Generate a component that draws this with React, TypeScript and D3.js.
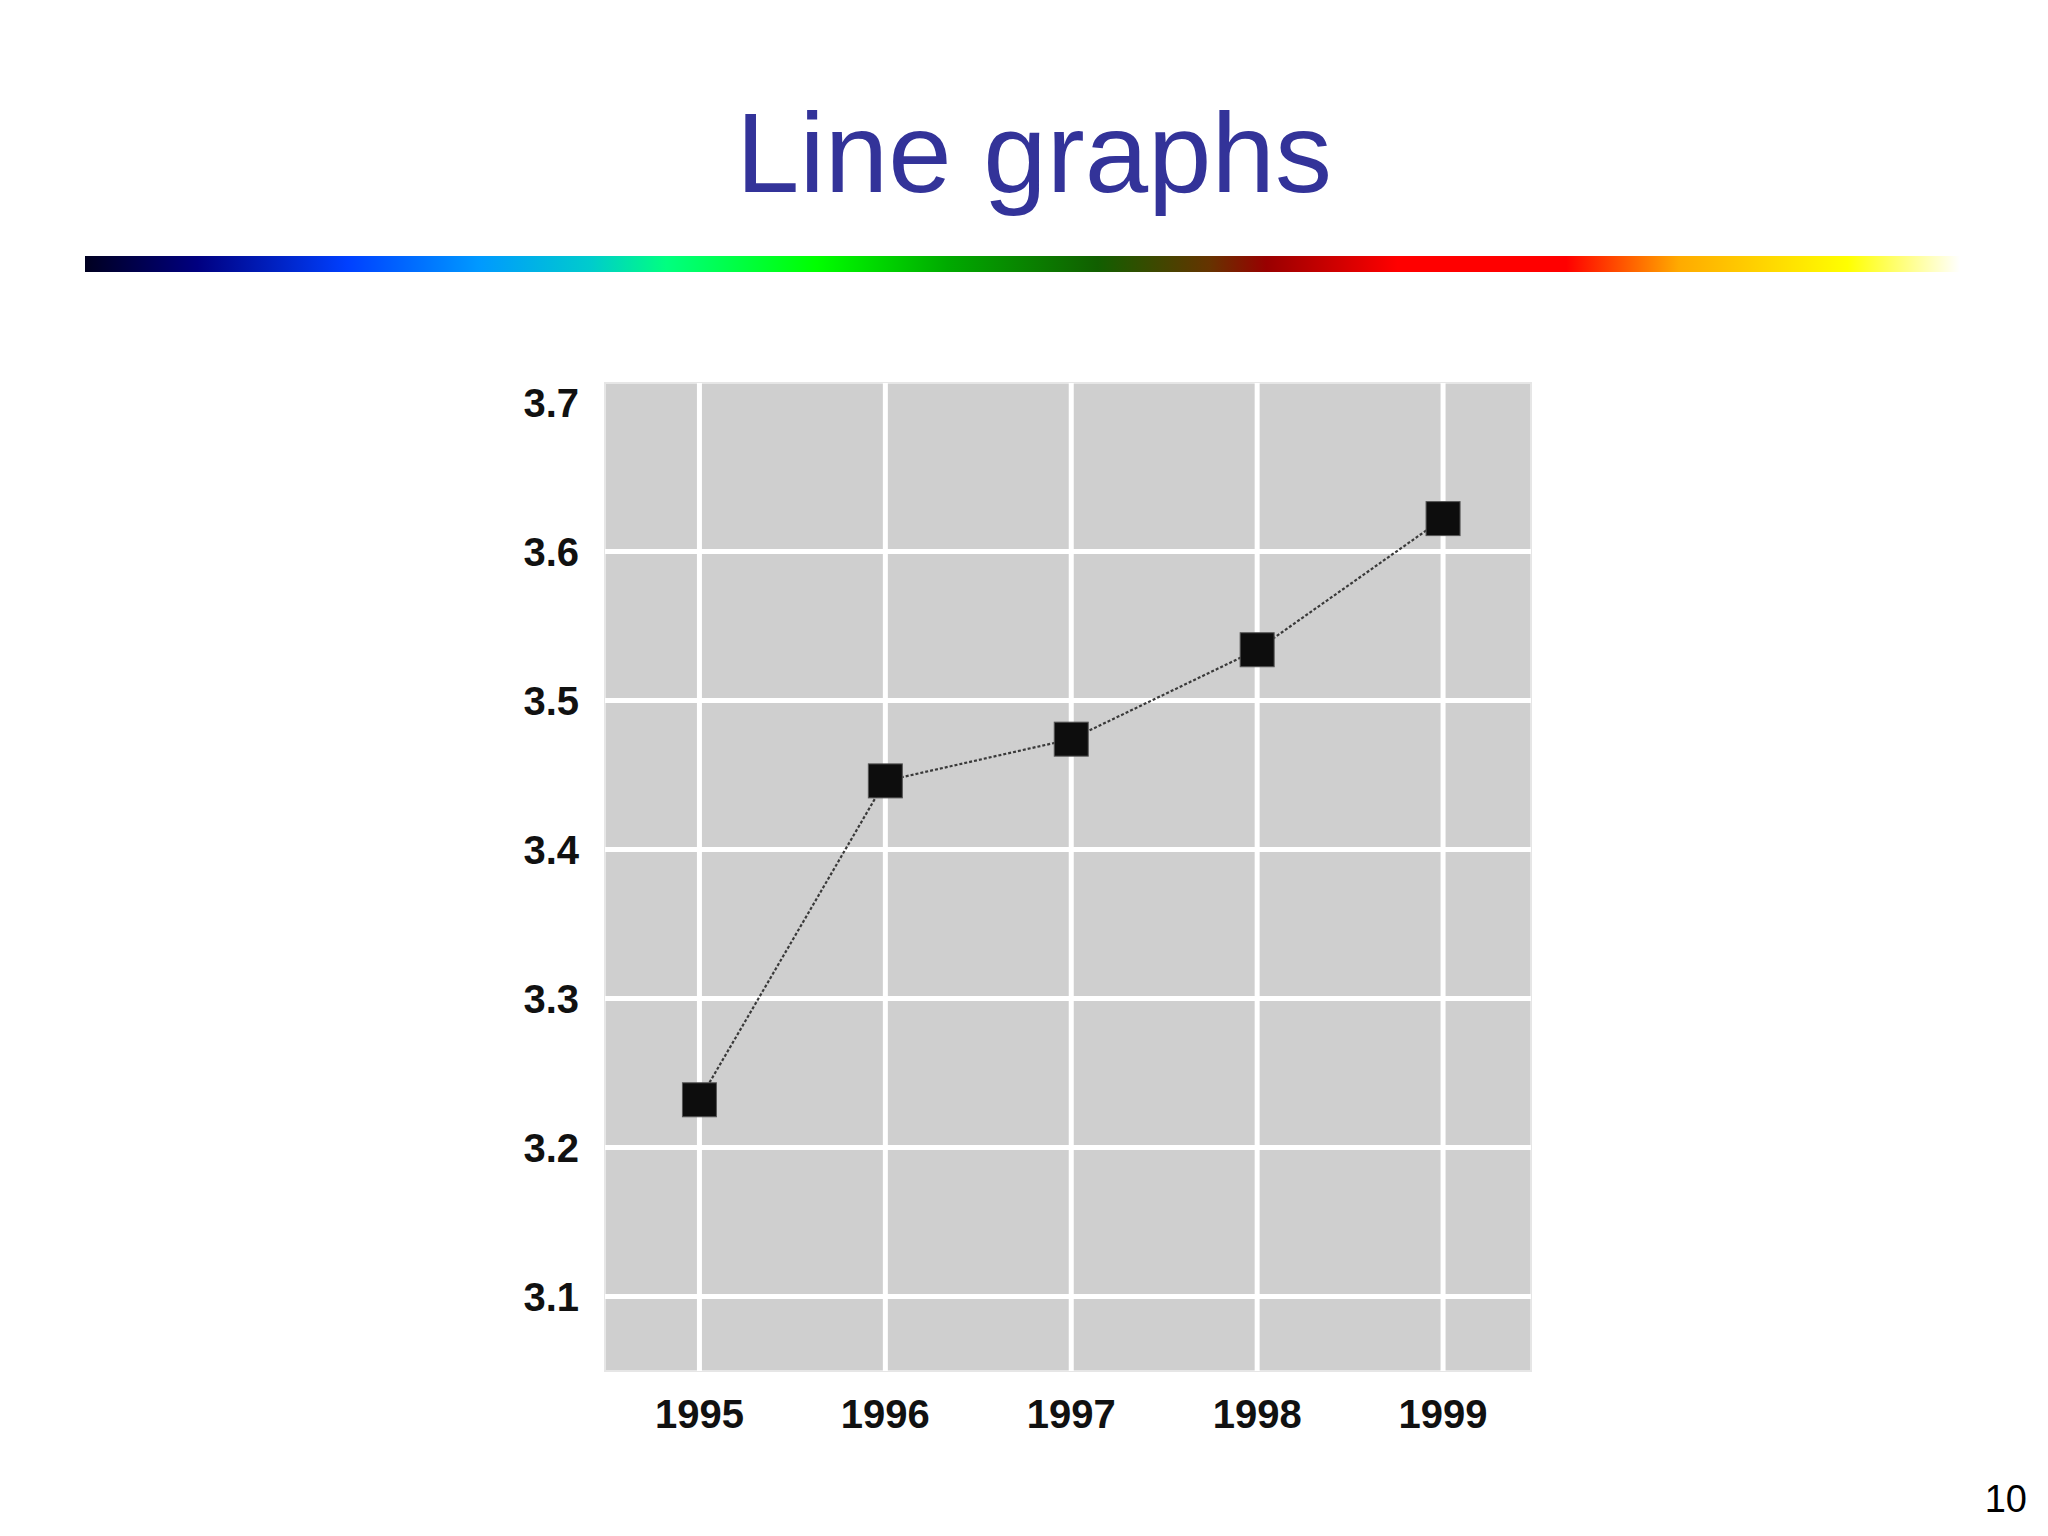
import React from "react";
import * as d3 from "d3";

const years: number[] = [1995, 1996, 1997, 1998, 1999];
const values: number[] = [3.232, 3.446, 3.474, 3.534, 3.622];
const yTicks: number[] = [3.1, 3.2, 3.3, 3.4, 3.5, 3.6, 3.7];
const titleText = "Line graphs";
const pageNumber = "10";

const gradientStops: [number, string][] = [
  [0, "#000020"],
  [0.06, "#000080"],
  [0.14, "#0040ff"],
  [0.21, "#0099ff"],
  [0.27, "#00cccc"],
  [0.31, "#00ff80"],
  [0.39, "#00ff00"],
  [0.46, "#00aa00"],
  [0.54, "#115f00"],
  [0.6, "#663300"],
  [0.63, "#990000"],
  [0.7, "#ff0000"],
  [0.79, "#ff0000"],
  [0.85, "#ffaa00"],
  [0.94, "#ffff00"],
  [1, "#ffffff"],
];

export default function App() {
  const W = 2048;
  const H = 1536;
  const plot = { left: 605, right: 1531, top: 383, bottom: 1371 };
  const x = d3.scaleLinear().domain([1994.492, 1999.473]).range([plot.left, plot.right]);
  const y = d3.scaleLinear().domain([3.05, 3.713]).range([plot.bottom, plot.top]);
  const line = d3
    .line<number>()
    .x((_, i) => x(years[i]))
    .y((d) => y(d));
  const font = "'Liberation Sans', Arial, Helvetica, sans-serif";
  const sq = 34;

  return (
    <div style={{ position: "absolute", left: 0, top: 0 }}>
      <svg width={W} height={H} style={{ display: "block", background: "#ffffff" }}>
        <defs>
          <linearGradient id="rainbow" x1="0" x2="1" y1="0" y2="0">
            {gradientStops.map(([o, c], i) => (
              <stop key={i} offset={o} stopColor={c} />
            ))}
          </linearGradient>
        </defs>
        <text
          x={1034}
          y={192}
          textAnchor="middle"
          fontFamily={font}
          fontSize={114}
          fill="#333399"
        >
          {titleText}
        </text>
        <rect x={85} y={256} width={1875} height={16} fill="url(#rainbow)" />

        <rect
          x={plot.left}
          y={plot.top}
          width={plot.right - plot.left}
          height={plot.bottom - plot.top}
          fill="#cfcfcf"
          stroke="#e6e6e6"
          strokeWidth={2}
        />
        {years.map((yr) => (
          <line
            key={"vx" + yr}
            x1={x(yr)}
            x2={x(yr)}
            y1={plot.top}
            y2={plot.bottom}
            stroke="#ffffff"
            strokeWidth={5}
          />
        ))}
        {yTicks
          .filter((t) => t < 3.65)
          .map((t) => (
            <line
              key={"hy" + t}
              x1={plot.left}
              x2={plot.right}
              y1={y(t)}
              y2={y(t)}
              stroke="#ffffff"
              strokeWidth={5}
            />
          ))}
        {yTicks.map((t) => (
          <text
            key={"yl" + t}
            x={579}
            y={y(t)}
            dy="0.36em"
            textAnchor="end"
            fontFamily={font}
            fontWeight="bold"
            fontSize={40}
            fill="#111"
          >
            {t.toFixed(1)}
          </text>
        ))}
        {years.map((yr) => (
          <text
            key={"xl" + yr}
            x={x(yr)}
            y={1428}
            textAnchor="middle"
            fontFamily={font}
            fontWeight="bold"
            fontSize={40}
            fill="#111"
          >
            {yr}
          </text>
        ))}
        <path
          d={line(values) || ""}
          fill="none"
          stroke="#3a3a3a"
          strokeWidth={2.2}
          strokeDasharray="3 2"
        />
        {values.map((v, i) => (
          <rect
            key={"m" + i}
            x={x(years[i]) - sq / 2}
            y={y(v) - sq / 2}
            width={sq}
            height={sq}
            fill="#0d0d0d"
            stroke="#555"
            strokeWidth={1}
          />
        ))}
        <text
          x={2027}
          y={1512}
          textAnchor="end"
          fontFamily={font}
          fontSize={38}
          fill="#000"
        >
          {pageNumber}
        </text>
      </svg>
    </div>
  );
}
